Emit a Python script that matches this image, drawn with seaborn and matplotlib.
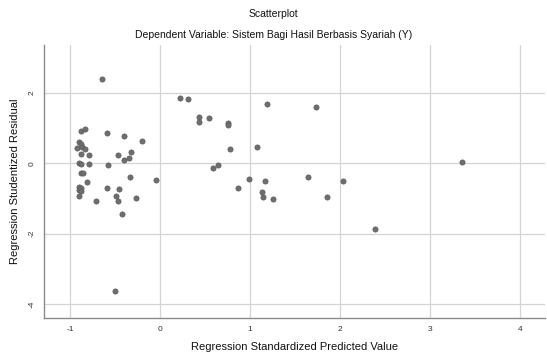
import numpy as np
import pandas as pd
import matplotlib
matplotlib.use('Agg')
import matplotlib.pyplot as plt
import seaborn as sns

# Regression standardized predicted value (x) and studentized residual (y)
predicted = [
    -0.64, 0.22, 0.31, 0.43, 0.43, 0.54, 0.76, 0.76, 1.19, 0.78, 1.08,
    0.59, 0.65, 0.99, 0.87, 1.17, 1.13, 1.15, 1.26, -0.04, -0.50,
    -0.88, -0.83, -0.59, -0.40, -0.20, -0.90, -0.88, -0.92, -0.87, -0.83,
    -0.79, -0.88, -0.47, -0.32, -0.40, -0.34, -0.90, -0.88, -0.79, -0.58,
    -0.88, -0.86, -0.81, -0.33, -0.90, -0.88, -0.90, -0.88, -0.59, -0.46,
    -0.90, -0.49, -0.27, -0.71, -0.47, -0.42,
    1.73, 3.36, 1.64, 2.03, 1.86, 2.39,
]
residual = [
    2.39, 1.87, 1.83, 1.32, 1.18, 1.30, 1.16, 1.09, 1.68, 0.40, 0.46,
    -0.12, -0.05, -0.44, -0.69, -0.51, -0.83, -0.95, -1.02, -0.48, -3.63,
    0.92, 0.98, 0.86, 0.77, 0.63, 0.61, 0.55, 0.43, 0.45, 0.41,
    0.24, 0.26, 0.24, 0.33, 0.10, 0.14, 0.01, -0.02, -0.01, -0.04,
    -0.27, -0.28, -0.53, -0.40, -0.68, -0.69, -0.76, -0.78, -0.71, -0.74,
    -0.93, -0.93, -0.99, -1.08, -1.07, -1.44,
    1.59, 0.05, -0.40, -0.51, -0.96, -1.87,
]
x_ticks = [-1, 0, 1, 2, 3, 4]
y_ticks = [-4, -2, 0, 2]

df = pd.DataFrame({'pred': predicted, 'resid': residual})

sns.set_style('white')
plt.rcParams['font.family'] = ['Liberation Sans', 'DejaVu Sans']

fig = plt.figure(figsize=(5.47, 3.56), dpi=100)
ax = fig.add_axes([0.0804, 0.107, 0.916, 0.767])

sns.scatterplot(data=df, x='pred', y='resid', ax=ax, s=14,
                color='#6e6e6e', edgecolor='#5a5a5a', linewidth=0.5, zorder=3)

ax.set_xlim(-1.29, 4.28)
ax.set_ylim(-4.4, 3.37)
ax.set_xticks(x_ticks)
ax.set_yticks(y_ticks)
ax.set_xticklabels([str(t) for t in x_ticks], fontsize=6, color='#333333')
ax.set_yticklabels([str(t) for t in y_ticks], fontsize=6, color='#333333',
                   rotation=90, va='center')
ax.tick_params(length=0, pad=6)

ax.grid(True, color='#d4d4d4', linewidth=0.9)
ax.set_axisbelow(True)
for side in ['top', 'right']:
    ax.spines[side].set_visible(False)
for side in ['left', 'bottom']:
    ax.spines[side].set_color('#8a8a8a')
    ax.spines[side].set_linewidth(1.0)

ax.set_xlabel('Regression Standardized Predicted Value', fontsize=8,
              labelpad=6, color='#111111')
ax.set_ylabel('Regression Studentized Residual', fontsize=8,
              labelpad=6, color='#111111')

fig.text(0.5, 0.962, 'Scatterplot', ha='center', va='center', fontsize=7.5,
         color='#111111')
fig.text(0.5, 0.902, 'Dependent Variable: Sistem Bagi Hasil Berbasis Syariah (Y)',
         ha='center', va='center', fontsize=7.5, color='#111111')

fig.savefig('out.png', dpi=100)
